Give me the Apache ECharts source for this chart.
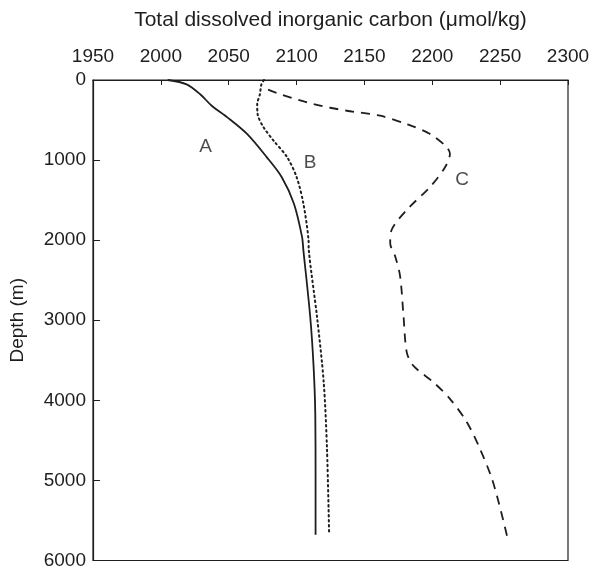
<!DOCTYPE html>
<html>
<head>
<meta charset="utf-8">
<script src="https://cdn.jsdelivr.net/npm/echarts@6/dist/echarts.min.js"></script>
<style>
html,body{margin:0;padding:0;background:#fff;}
#chart{width:593px;height:570px;}
</style>
</head>
<body>
<div id="chart"></div>
<script>
// Depth (m) and total dissolved inorganic carbon (umol/kg)
const depthA = [0, 54, 178, 322, 467, 674, 963, 1211, 1542, 1955, 2121, 2947, 3567, 4188, 5015, 5680];
const dicA   = [2005, 2019, 2029, 2037.5, 2049, 2063.5, 2078, 2089, 2098, 2104, 2105, 2110, 2112.5, 2113.8, 2114, 2114];

const depthB = [0, 60, 178, 302, 426, 591, 756, 963, 1211, 1542, 1996, 2121, 2947, 3774, 4600, 5680];
const dicB   = [2076, 2074, 2073, 2071, 2071.3, 2075.7, 2083, 2093, 2100, 2105, 2108.8, 2109, 2115, 2120, 2122.4, 2124];

const depthC = [120, 178, 302, 384, 446, 550, 674, 839, 922, 1087, 1335, 1625, 1873, 2038, 2204, 2451, 2947, 3402, 3567, 3774, 3981, 4270, 4600, 4972, 5344, 5716];
const dicC   = [2079, 2088, 2112.5, 2137, 2161.6, 2181, 2198.4, 2210.7, 2213, 2209.5, 2198.4, 2181, 2170, 2169, 2172.7, 2176.3, 2178.8, 2181.2, 2186, 2200.8, 2213, 2225.4, 2235, 2243.8, 2250, 2255.4];

const curveLabels = ['A', 'B', 'C'];
const labelDic = [2033, 2110, 2222];
const labelDepth = [830, 1030, 1250];

const xTicks = [1950, 2000, 2050, 2100, 2150, 2200, 2250, 2300];
const yTicks = [0, 1000, 2000, 3000, 4000, 5000, 6000];

const pairs = (xs, ys) => xs.map((x, i) => [x, ys[i]]);

const FONT = 'Liberation Sans, Arial, sans-serif';
const ink = '#1e1e1e';

const chart = echarts.init(document.getElementById('chart'), null, {renderer: 'canvas'});
chart.setOption({
  animation: false,
  backgroundColor: '#ffffff',
  grid: {left: 93, right: 25, top: 80, bottom: 7, show: true, borderColor: ink, borderWidth: 1.2, backgroundColor: 'transparent'},
  xAxis: {
    type: 'value', position: 'top', min: xTicks[0], max: xTicks[xTicks.length - 1], interval: 50,
    name: 'Total dissolved inorganic carbon (\u03bcmol/kg)', nameLocation: 'middle', nameGap: 49,
    nameTextStyle: {fontFamily: FONT, fontSize: 21, color: ink},
    axisLine: {show: true, lineStyle: {color: ink, width: 1.2}},
    axisTick: {show: true, inside: true, length: 5, lineStyle: {color: ink, width: 1}},
    axisLabel: {fontFamily: FONT, fontSize: 19, color: ink, margin: 14, formatter: v => String(v)},
    splitLine: {show: false}
  },
  yAxis: {
    type: 'value', inverse: true, min: yTicks[0], max: yTicks[yTicks.length - 1], interval: 1000,
    name: 'Depth (m)', nameLocation: 'middle', nameGap: 66, nameRotate: 90,
    nameTextStyle: {fontFamily: FONT, fontSize: 19, color: ink},
    axisLine: {show: true, lineStyle: {color: ink, width: 1.2}},
    axisTick: {show: true, inside: true, length: 7, lineStyle: {color: ink, width: 1}},
    axisLabel: {fontFamily: FONT, fontSize: 19, color: ink, margin: 7, formatter: v => String(v)},
    splitLine: {show: false}
  },
  series: [
    {type: 'line', name: 'A', data: pairs(dicA, depthA), showSymbol: false, smooth: 0.3,
     lineStyle: {color: ink, width: 1.8, type: 'solid'}},
    {type: 'line', name: 'B', data: pairs(dicB, depthB), showSymbol: false, smooth: 0.3,
     lineStyle: {color: ink, width: 2, type: [1.5, 3.5], cap: 'round'}},
    {type: 'line', name: 'C', data: pairs(dicC, depthC), showSymbol: false, smooth: 0.3,
     lineStyle: {color: ink, width: 1.8, type: [9, 7]}},
    {type: 'scatter', data: curveLabels.map((t, i) => ({value: [labelDic[i], labelDepth[i]], name: t})),
     symbolSize: 0, silent: true,
     label: {show: true, position: 'inside', formatter: p => p.name, fontFamily: FONT, fontSize: 19, color: ink}}
  ]
});
</script>
</body>
</html>
